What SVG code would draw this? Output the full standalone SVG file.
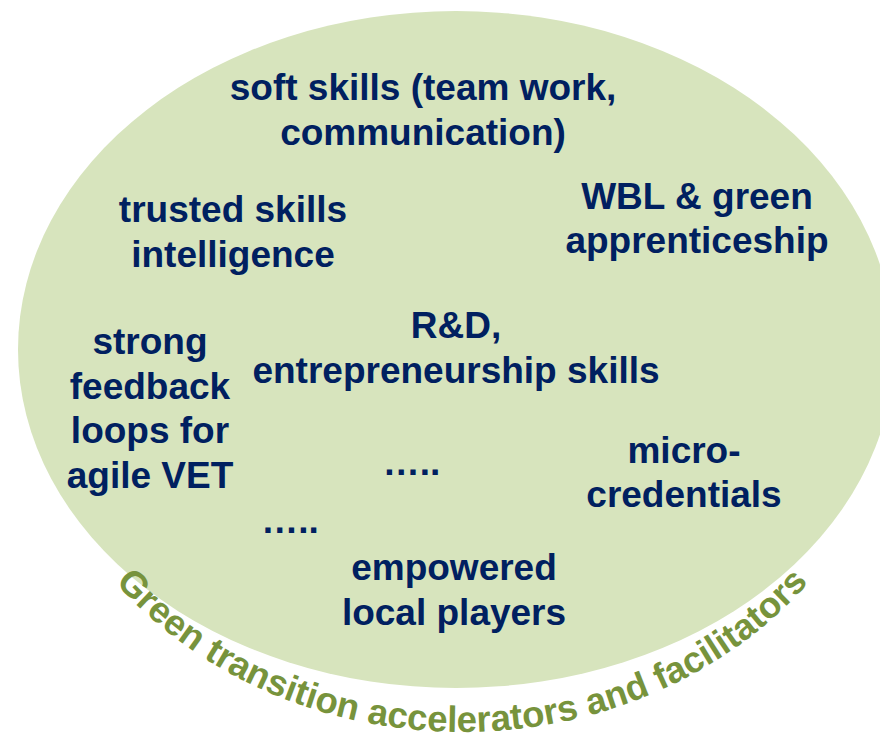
<svg xmlns="http://www.w3.org/2000/svg" xmlns:xlink="http://www.w3.org/1999/xlink" width="880" height="739" viewBox="0 0 880 739">
  <style>
    .t { font-family: "Liberation Sans", Arial, sans-serif; font-weight: bold; font-size: 37px; fill: #002060; text-anchor: middle; }
    .arc { font-family: "Liberation Sans", Arial, sans-serif; font-weight: bold; font-size: 36.5px; fill: #77933C; }
  </style>
  <defs>
    <path id="arcPath" d="M 22 343 A 440 389 0 0 0 902 343"/>
  </defs>
  <rect width="880" height="739" fill="#FFFFFF"/>
  <g id="circle">
    <ellipse cx="456" cy="349.5" rx="438" ry="338.5" fill="#D7E4BD"/>
  </g>
  <g id="soft-skills">
    <text class="t" x="423" y="100">soft skills (team work,</text>
    <text class="t" x="423" y="145">communication)</text>
  </g>
  <g id="trusted-skills">
    <text class="t" x="233" y="222">trusted skills</text>
    <text class="t" x="233" y="267">intelligence</text>
  </g>
  <g id="wbl">
    <text class="t" x="697" y="209">WBL &amp; green</text>
    <text class="t" x="697" y="253">apprenticeship</text>
  </g>
  <g id="feedback">
    <text class="t" x="150" y="354">strong</text>
    <text class="t" x="150" y="399">feedback</text>
    <text class="t" x="150" y="443">loops for</text>
    <text class="t" x="150" y="488">agile VET</text>
  </g>
  <g id="rd">
    <text class="t" x="456" y="338">R&amp;D,</text>
    <text class="t" x="456" y="383">entrepreneurship skills</text>
  </g>
  <g id="dots1">
    <text class="t" x="411.5" y="475">…..</text>
  </g>
  <g id="micro">
    <text class="t" x="684" y="463">micro-</text>
    <text class="t" x="684" y="507">credentials</text>
  </g>
  <g id="dots2">
    <text class="t" x="290" y="533">…..</text>
  </g>
  <g id="empowered">
    <text class="t" x="454" y="580">empowered</text>
    <text class="t" x="454" y="625">local players</text>
  </g>
  <g id="connectors"></g>
  <g id="arc-label">
    <text class="arc"><textPath xlink:href="#arcPath" href="#arcPath" startOffset="50%" text-anchor="middle">Green transition accelerators and facilitators</textPath></text>
  </g>
</svg>
